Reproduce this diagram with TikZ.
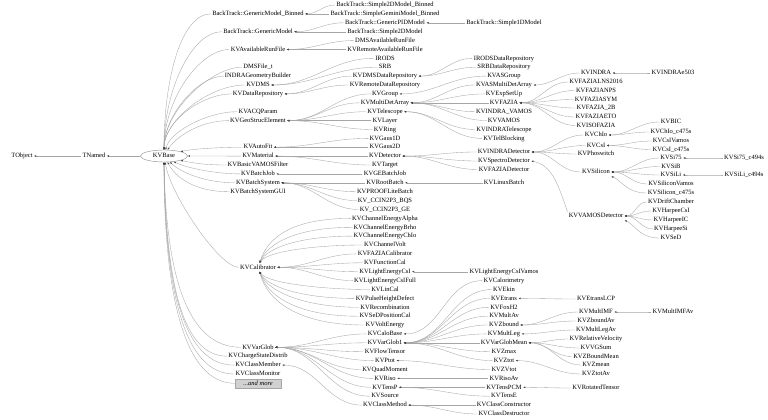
\documentclass[tikz,border=0pt]{standalone}
\usepackage{fontspec}
\newfontfamily\clsfont{Liberation Serif}
\usetikzlibrary{shapes.geometric,arrows.meta}
\newcommand\kvfont{\clsfont\fontsize{6.5pt}{7pt}\selectfont}
\newcommand\ed[2]{\draw[edge] (#1.west) to[out=180,in=0] (#2.east);}
\tikzset{
  cls/.style={inner sep=1.2pt, text height=4.6pt, text depth=1.2pt, font=\kvfont, text=black},
  edge/.style={draw=black!35, line width=0.35pt, -{Latex[length=2.2pt,width=1.7pt,color=black!75]}},
  basenode/.style={cls, ellipse, draw=black!45, line width=0.4pt, minimum width=47pt, minimum height=12pt, inner sep=0pt},
  morebox/.style={cls, draw=black!35, fill=black!18, minimum width=46pt, minimum height=9pt, inner sep=0pt, font=\kvfont\itshape},
}
\begin{document}
\begin{tikzpicture}[x=1pt,y=-1pt]
\useasboundingbox (0,0) rectangle (768,420);
\fill[white] (0,0) rectangle (768,420);
% column 0
\node[cls] (tobject) at (22,156) {TObject};
\node[cls] (tnamed) at (94,156) {TNamed};
\node[basenode] (kvbase) at (164,156) {KVBase};
% column 1
\node[cls] (gmb) at (258,13.9) {BackTrack::GenericModel\_Binned};
\node[cls] (gm) at (258,31.7) {BackTrack::GenericModel};
\node[cls] (avrf) at (258,49.5) {KVAvailableRunFile};
\node[cls] (dmsf) at (258,67.2) {DMSFile\_t};
\node[cls] (igb) at (258,76.1) {INDRAGeometryBuilder};
\node[cls] (dms) at (258,85.0) {KVDMS};
\node[cls] (dr) at (258,93.9) {KVDataRepository};
\node[cls] (acq) at (258,111.7) {KVACQParam};
\node[cls] (geo) at (258,120.6) {KVGeoStrucElement};
\node[cls] (autofit) at (258,147.2) {KVAutoFit};
\node[cls] (material) at (258,156.1) {KVMaterial};
\node[cls] (bvf) at (258,165.0) {KVBasicVAMOSFilter};
\node[cls] (bj) at (258,173.9) {KVBatchJob};
\node[cls] (bs) at (258,182.8) {KVBatchSystem};
\node[cls] (bsgui) at (258,191.7) {KVBatchSystemGUI};
\node[cls] (cal) at (258,267.3) {KVCalibrator};
\node[cls] (vg) at (258,347.3) {KVVarGlob};
\node[cls] (csd) at (258,356.2) {KVChargeStateDistrib};
\node[cls] (cmem) at (258,365.1) {KVClassMember};
\node[cls] (cmon) at (258,374.0) {KVClassMonitor};
\node[morebox] (more) at (258,383.3) {...and more};
% column 2
\node[cls] (s2db) at (385,5.0) {BackTrack::Simple2DModel\_Binned};
\node[cls] (sgmb) at (385,13.9) {BackTrack::SimpleGeminiModel\_Binned};
\node[cls] (gpid) at (385,22.8) {BackTrack::GenericPIDModel};
\node[cls] (s2d) at (385,31.7) {BackTrack::Simple2DModel};
\node[cls] (dmsarf) at (385,40.6) {DMSAvailableRunFile};
\node[cls] (rarf) at (385,49.5) {KVRemoteAvailableRunFile};
\node[cls] (irods) at (385,58.3) {IRODS};
\node[cls] (srb) at (385,67.2) {SRB};
\node[cls] (dmsdr) at (385,76.1) {KVDMSDataRepository};
\node[cls] (rdr) at (385,85.0) {KVRemoteDataRepository};
\node[cls] (group) at (385,93.9) {KVGroup};
\node[cls] (mda) at (385,102.8) {KVMultiDetArray};
\node[cls] (tel) at (385,111.7) {KVTelescope};
\node[cls] (layer) at (385,120.6) {KVLayer};
\node[cls] (ring) at (385,129.5) {KVRing};
\node[cls] (gaus1) at (385,138.4) {KVGaus1D};
\node[cls] (gaus2) at (385,147.2) {KVGaus2D};
\node[cls] (det) at (385,156.1) {KVDetector};
\node[cls] (target) at (385,165.0) {KVTarget};
\node[cls] (gebj) at (385,173.9) {KVGEBatchJob};
\node[cls] (rootb) at (385,182.8) {KVRootBatch};
\node[cls] (proof) at (385,191.7) {KVPROOFLiteBatch};
\node[cls] (bqs) at (385,200.6) {KV\_CCIN2P3\_BQS};
\node[cls] (ge) at (385,209.5) {KV\_CCIN2P3\_GE};
\node[cls] (cea) at (385,218.4) {KVChannelEnergyAlpha};
\node[cls] (ceb) at (385,227.3) {KVChannelEnergyBrho};
\node[cls] (cec) at (385,236.1) {KVChannelEnergyChIo};
\node[cls] (cv) at (385,245.0) {KVChannelVolt};
\node[cls] (fcal) at (385,253.9) {KVFAZIACalibrator};
\node[cls] (func) at (385,262.8) {KVFunctionCal};
\node[cls] (lec) at (385,271.7) {KVLightEnergyCsI};
\node[cls] (lecf) at (385,280.6) {KVLightEnergyCsIFull};
\node[cls] (lin) at (385,289.5) {KVLinCal};
\node[cls] (phd) at (385,298.4) {KVPulseHeightDefect};
\node[cls] (recomb) at (385,307.3) {KVRecombination};
\node[cls] (sedpos) at (385,316.2) {KVSeDPositionCal};
\node[cls] (volte) at (385,325.0) {KVVoltEnergy};
\node[cls] (calob) at (385,333.9) {KVCaloBase};
\node[cls] (vg1) at (385,342.8) {KVVarGlob1};
\node[cls] (flow) at (385,351.7) {KVFlowTensor};
\node[cls] (ptot) at (385,360.6) {KVPtot};
\node[cls] (quad) at (385,369.5) {KVQuadMoment};
\node[cls] (riso) at (385,378.4) {KVRiso};
\node[cls] (tensp) at (385,387.3) {KVTensP};
\node[cls] (source) at (385,396.2) {KVSource};
\node[cls] (cmeth) at (385,405.1) {KVClassMethod};
% column 3
\node[cls] (s1d) at (504,22.8) {BackTrack::Simple1DModel};
\node[cls] (irodsdr) at (504,58.3) {IRODSDataRepository};
\node[cls] (srbdr) at (504,67.2) {SRBDataRepository};
\node[cls] (asg) at (504,76.1) {KVASGroup};
\node[cls] (asmda) at (504,85.0) {KVASMultiDetArray};
\node[cls] (esu) at (504,93.9) {KVExpSetUp};
\node[cls] (fazia) at (504,102.8) {KVFAZIA};
\node[cls] (iv) at (504,111.7) {KVINDRA\_VAMOS};
\node[cls] (vamos) at (504,120.6) {KVVAMOS};
\node[cls] (itel) at (504,129.5) {KVINDRATelescope};
\node[cls] (telb) at (504,138.4) {KVTelBlocking};
\node[cls] (idet) at (504,152.0) {KVINDRADetector};
\node[cls] (spec) at (504,161.0) {KVSpectroDetector};
\node[cls] (fdet) at (504,169.5) {KVFAZIADetector};
\node[cls] (linux) at (504,182.8) {KVLinuxBatch};
\node[cls] (lecv) at (504,271.7) {KVLightEnergyCsIVamos};
\node[cls] (calo) at (504,280.6) {KVCalorimetry};
\node[cls] (ekin) at (504,289.5) {KVEkin};
\node[cls] (etrans) at (504,298.4) {KVEtrans};
\node[cls] (fox) at (504,307.3) {KVFoxH2};
\node[cls] (multav) at (504,316.2) {KVMultAv};
\node[cls] (zbound) at (504,325.0) {KVZbound};
\node[cls] (multleg) at (504,333.9) {KVMultLeg};
\node[cls] (vgm) at (504,342.8) {KVVarGlobMean};
\node[cls] (zmax) at (504,351.7) {KVZmax};
\node[cls] (ztot) at (504,360.6) {KVZtot};
\node[cls] (zvtot) at (504,369.5) {KVZVtot};
\node[cls] (risoav) at (504,378.4) {KVRisoAv};
\node[cls] (tenspcm) at (504,387.3) {KVTensPCM};
\node[cls] (tense) at (504,396.2) {KVTensE};
\node[cls] (ccons) at (504,405.1) {KVClassConstructor};
\node[cls] (cdes) at (504,414.0) {KVClassDestructor};
% column 4
\node[cls] (indra) at (596,73.0) {KVINDRA};
\node[cls] (lns) at (596,82.0) {KVFAZIALNS2016};
\node[cls] (nps) at (596,90.5) {KVFAZIANPS};
\node[cls] (sym) at (596,99.5) {KVFAZIASYM};
\node[cls] (f2b) at (596,108.0) {KVFAZIA\_2B};
\node[cls] (eto) at (596,117.0) {KVFAZIAETO};
\node[cls] (iso) at (596,125.5) {KVISOFAZIA};
\node[cls] (chio) at (596,135.0) {KVChIo};
\node[cls] (csi) at (596,145.5) {KVCsI};
\node[cls] (phos) at (596,154.0) {KVPhoswitch};
\node[cls] (sil) at (596,172.0) {KVSilicon};
\node[cls] (vdet) at (596,216.0) {KVVAMOSDetector};
\node[cls] (etlcp) at (596,299.0) {KVEtransLCP};
\node[cls] (mimf) at (596,312.0) {KVMultIMF};
\node[cls] (zbav) at (596,321.0) {KVZboundAv};
\node[cls] (mlav) at (596,330.0) {KVMultLegAv};
\node[cls] (relv) at (596,339.0) {KVRelativeVelocity};
\node[cls] (vgs) at (596,348.0) {KVVGSum};
\node[cls] (zbm) at (596,356.5) {KVZBoundMean};
\node[cls] (zmean) at (596,365.0) {KVZmean};
\node[cls] (ztav) at (596,374.0) {KVZtotAv};
\node[cls] (rott) at (596,388.0) {KVRotatedTensor};
% column 5
\node[cls] (e503) at (673,73.0) {KVINDRAe503};
\node[cls] (bic) at (671,122.0) {KVBIC};
\node[cls] (chioc) at (671,132.0) {KVChIo\_c475s};
\node[cls] (csiv) at (671,141.0) {KVCsIVamos};
\node[cls] (csic) at (671,149.5) {KVCsI\_c475s};
\node[cls] (si75) at (671,158.0) {KVSi75};
\node[cls] (sib) at (671,166.5) {KVSiB};
\node[cls] (sili) at (671,175.0) {KVSiLi};
\node[cls] (silv) at (671,184.0) {KVSiliconVamos};
\node[cls] (silc) at (671,193.0) {KVSilicon\_c475s};
\node[cls] (drift) at (671,202.0) {KVDriftChamber};
\node[cls] (hcsi) at (671,211.0) {KVHarpeeCsI};
\node[cls] (hic) at (671,220.0) {KVHarpeeIC};
\node[cls] (hsi) at (671,229.0) {KVHarpeeSi};
\node[cls] (sed) at (671,238.0) {KVSeD};
\node[cls] (mimfav) at (673,312.0) {KVMultIMFAv};
% column 6
\node[cls] (si75c) at (744,158.0) {KVSi75\_c494s};
\node[cls] (silic) at (744,175.0) {KVSiLi\_c494s};

% ---- edges to the root chain
\draw[edge] (tnamed.west) -- (tobject.east);
\draw[edge] (kvbase.west) -- (tnamed.east);
% ---- column 1 to KVBase
\draw[edge] (gmb.west) .. controls +(-30,0) and +(0,-70) .. (kvbase.north);
\draw[edge] (gm.west) .. controls +(-30,0) and +(0,-60) .. (kvbase.north);
\draw[edge] (avrf.west) .. controls +(-30,0) and +(0,-50) .. (kvbase.north);
\draw[edge] (dmsf.west) .. controls +(-30,0) and +(0,-40) .. (kvbase.north);
\draw[edge] (igb.west) .. controls +(-25,0) and +(0,-35) .. (kvbase.north);
\draw[edge] (dms.west) .. controls +(-35,0) and +(0,-30) .. (kvbase.north);
\draw[edge] (dr.west) .. controls +(-30,0) and +(0,-28) .. (kvbase.north);
\draw[edge] (acq.west) .. controls +(-30,0) and +(4,-18) .. (kvbase.75);
\draw[edge] (geo.west) .. controls +(-30,0) and +(8,-12) .. (kvbase.60);
\draw[edge] (autofit.west) .. controls +(-20,0) and +(15,-3) .. (kvbase.15);
\draw[edge] (material.west) -- (kvbase.east);
\draw[edge] (bvf.west) .. controls +(-20,0) and +(15,3) .. (kvbase.-15);
\draw[edge] (bj.west) .. controls +(-25,0) and +(12,6) .. (kvbase.-30);
\draw[edge] (bs.west) .. controls +(-30,0) and +(10,10) .. (kvbase.-45);
\draw[edge] (bsgui.west) .. controls +(-35,0) and +(8,15) .. (kvbase.-60);
\draw[edge] (cal.west) .. controls +(-20,0) and +(4,30) .. (kvbase.-78);
\draw[edge] (vg.west) .. controls +(-55,0) and +(2,110) .. (kvbase.-90);
\draw[edge] (csd.west) .. controls +(-45,0) and +(2,120) .. (kvbase.-90);
\draw[edge] (cmem.west) .. controls +(-50,0) and +(1,125) .. (kvbase.-90);
\draw[edge] (cmon.west) .. controls +(-50,0) and +(1,130) .. (kvbase.-90);
\draw[edge] (more.west) .. controls +(-50,0) and +(0,135) .. (kvbase.-90);
% ---- column 2 to column 1
\ed{s2db}{gmb} \ed{sgmb}{gmb}
\ed{gpid}{gm} \ed{s2d}{gm}
\ed{dmsarf}{avrf} \ed{rarf}{avrf}
\ed{irods}{dms} \ed{srb}{dms}
\ed{dmsdr}{dr} \ed{rdr}{dr}
\ed{group}{geo} \ed{mda}{geo} \ed{tel}{geo} \ed{layer}{geo} \ed{ring}{geo}
\ed{gaus1}{autofit} \ed{gaus2}{autofit}
\ed{det}{material} \ed{target}{material}
\ed{gebj}{bj}
\ed{rootb}{bs} \ed{proof}{bs} \ed{bqs}{bs} \ed{ge}{bs}
\draw[edge] (cea.west) .. controls +(-60,0) and +(8,-25) .. (cal.70);
\draw[edge] (ceb.west) .. controls +(-55,0) and +(8,-20) .. (cal.70);
\draw[edge] (cec.west) .. controls +(-50,0) and +(8,-16) .. (cal.70);
\draw[edge] (cv.west) .. controls +(-45,0) and +(8,-12) .. (cal.70);
\ed{fcal}{cal} \ed{func}{cal} \ed{lec}{cal} \ed{lecf}{cal}
\draw[edge] (lin.west) .. controls +(-45,0) and +(8,12) .. (cal.-70);
\draw[edge] (phd.west) .. controls +(-50,0) and +(8,16) .. (cal.-70);
\draw[edge] (recomb.west) .. controls +(-55,0) and +(8,20) .. (cal.-70);
\draw[edge] (sedpos.west) .. controls +(-60,0) and +(8,25) .. (cal.-70);
\draw[edge] (volte.west) .. controls +(-65,0) and +(8,30) .. (cal.-70);
\ed{calob}{vg} \ed{vg1}{vg} \ed{flow}{vg} \ed{ptot}{vg} \ed{quad}{vg}
\ed{riso}{vg} \ed{tensp}{vg} \ed{source}{vg}
\ed{cmeth}{cmem}
% ---- column 3 to column 2
\ed{s1d}{gpid}
\ed{irodsdr}{dmsdr} \ed{srbdr}{dmsdr}
\ed{asg}{group}
\ed{asmda}{mda} \ed{esu}{mda} \ed{fazia}{mda} \ed{iv}{mda} \ed{vamos}{mda}
\ed{itel}{tel} \ed{telb}{tel}
\ed{idet}{det} \ed{spec}{det} \ed{fdet}{det}
\ed{linux}{rootb}
\ed{lecv}{lec}
\ed{calo}{calob}
\ed{ekin}{vg1} \ed{etrans}{vg1} \ed{fox}{vg1} \ed{multav}{vg1} \ed{zbound}{vg1}
\ed{multleg}{vg1} \ed{vgm}{vg1} \ed{zmax}{vg1} \ed{ztot}{vg1}
\ed{zvtot}{ptot}
\ed{risoav}{riso}
\ed{tenspcm}{tensp} \ed{tense}{tensp}
\ed{ccons}{cmeth} \ed{cdes}{cmeth}
% ---- column 4 to column 3
\ed{indra}{asmda}
\ed{lns}{fazia} \ed{nps}{fazia} \ed{sym}{fazia} \ed{f2b}{fazia} \ed{eto}{fazia} \ed{iso}{fazia}
\ed{chio}{idet} \ed{csi}{idet} \ed{phos}{idet} \ed{sil}{idet}
\draw[edge] (vdet.north west) .. controls +(-10,-30) and +(20,4) .. (spec.east);
\ed{etlcp}{etrans}
\ed{mimf}{zbound} \ed{zbav}{zbound}
\ed{mlav}{multleg}
\ed{relv}{vgm} \ed{vgs}{vgm} \ed{zbm}{vgm} \ed{zmean}{vgm}
\ed{ztav}{ztot}
\ed{rott}{tenspcm}
% ---- column 5 to column 4
\ed{e503}{indra}
\ed{bic}{chio} \ed{chioc}{chio}
\ed{csiv}{csi} \ed{csic}{csi}
\ed{si75}{sil} \ed{sib}{sil} \ed{sili}{sil} \ed{silv}{sil}
\draw[edge] (silc.west) .. controls +(-20,0) and +(10,4) .. (sil.south east);
\ed{drift}{vdet} \ed{hcsi}{vdet} \ed{hic}{vdet} \ed{hsi}{vdet}
\draw[edge] (sed.west) .. controls +(-20,0) and +(10,4) .. (vdet.south east);
\ed{mimfav}{mimf}
% ---- column 6 to column 5
\ed{si75c}{si75}
\ed{silic}{sili}
\end{tikzpicture}
\end{document}
